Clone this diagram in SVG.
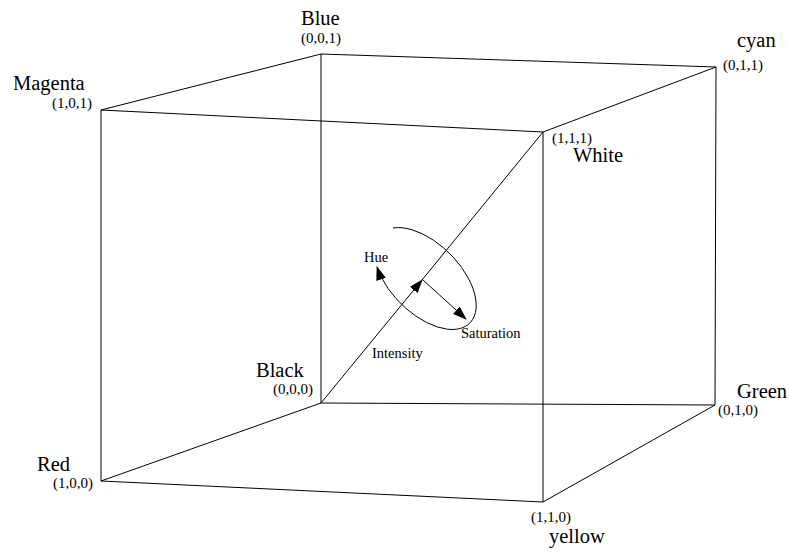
<svg xmlns="http://www.w3.org/2000/svg" width="789" height="552" viewBox="0 0 789 552">
<style>
.edge{stroke:#000;stroke-width:1;fill:none}
.name{font-family:"Liberation Serif","Times New Roman",serif;font-size:20.5px;fill:#000}
.coord{font-family:"Liberation Serif","Times New Roman",serif;font-size:15px;fill:#000}
.small{font-family:"Liberation Serif","Times New Roman",serif;font-size:14.5px;fill:#000}
</style>
<defs>
<marker id="ah" markerWidth="14" markerHeight="10" refX="13" refY="5" orient="auto" markerUnits="userSpaceOnUse">
<path d="M0,0 L14,5 L0,10 Z" fill="#000"/>
</marker>
</defs>
<rect width="789" height="552" fill="#fff"/>
<g id="connectors">
<line class="edge" x1="101" y1="110" x2="321" y2="54"/>
<line class="edge" x1="321" y1="54" x2="716" y2="67"/>
<line class="edge" x1="101" y1="110" x2="543" y2="132"/>
<line class="edge" x1="543" y1="132" x2="716" y2="67"/>
<line class="edge" x1="101" y1="110" x2="101" y2="481"/>
<line class="edge" x1="321" y1="54" x2="321" y2="403"/>
<line class="edge" x1="543" y1="132" x2="543" y2="502"/>
<line class="edge" x1="716" y1="67" x2="715" y2="405"/>
<line class="edge" x1="101" y1="481" x2="321" y2="403"/>
<line class="edge" x1="321" y1="403" x2="715" y2="405"/>
<line class="edge" x1="101" y1="481" x2="543" y2="502"/>
<line class="edge" x1="543" y1="502" x2="715" y2="405"/>
<line class="edge" x1="422" y1="280" x2="543" y2="132"/>
<line id="intensity" class="edge" x1="321" y1="403" x2="422" y2="280" stroke-width="1.3" marker-end="url(#ah)"/>
<line id="saturation" class="edge" x1="423" y1="280" x2="466" y2="319" marker-end="url(#ah)"/>
<path id="hue" class="edge" d="M393,228 A63,35 45 1 1 377,267" marker-end="url(#ah)"/>
</g>
<g id="blue"><text class="name" x="301" y="25">Blue</text><text class="coord" x="301" y="43">(0,0,1)</text></g>
<g id="magenta"><text class="name" x="13" y="90">Magenta</text><text class="coord" x="52" y="108">(1,0,1)</text></g>
<g id="cyan"><text class="name" x="737" y="47">cyan</text><text class="coord" x="723" y="70">(0,1,1)</text></g>
<g id="white"><text class="coord" x="552" y="143">(1,1,1)</text><text class="name" x="573" y="162">White</text></g>
<g id="black"><text class="name" x="256" y="377">Black</text><text class="coord" x="273" y="394">(0,0,0)</text></g>
<g id="green"><text class="name" x="737" y="398">Green</text><text class="coord" x="718" y="415">(0,1,0)</text></g>
<g id="red"><text class="name" x="37" y="471">Red</text><text class="coord" x="53" y="488">(1,0,0)</text></g>
<g id="yellow"><text class="coord" x="531" y="522">(1,1,0)</text><text class="name" x="549" y="543">yellow</text></g>
<g id="labels"><text class="small" x="364" y="262">Hue</text><text class="small" x="461" y="338">Saturation</text><text class="small" x="372" y="358">Intensity</text></g>
</svg>
